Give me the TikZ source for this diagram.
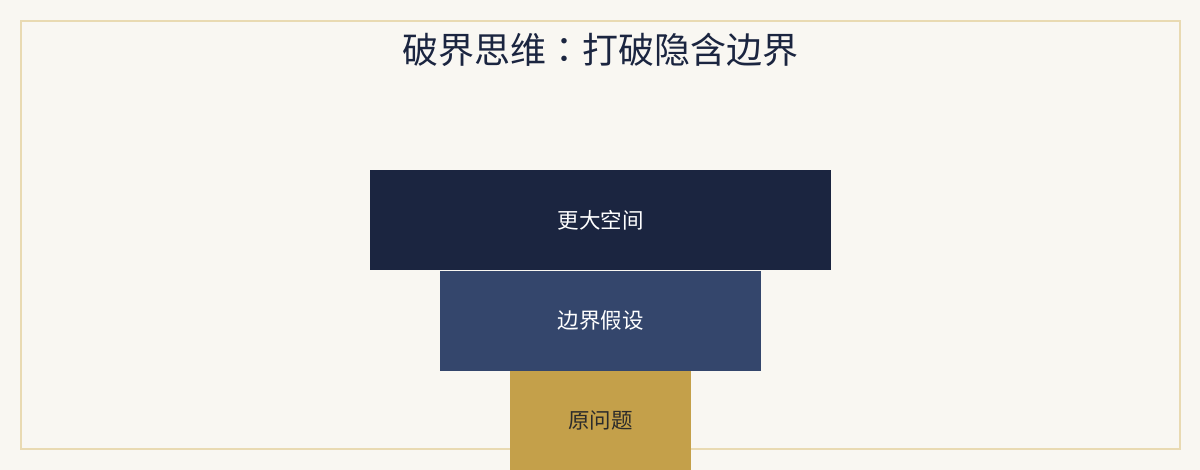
\documentclass[tikz,border=0pt]{standalone}
\usepackage{fontspec}
\newfontfamily\cjk{Noto Sans CJK SC}
\newfontfamily\cjkjp{Noto Sans CJK JP}
\definecolor{bgcol}{HTML}{F9F7F2}
\definecolor{framecol}{HTML}{E9DAB2}
\definecolor{navy}{HTML}{1B2540}
\definecolor{midblue}{HTML}{34466C}
\definecolor{gold}{HTML}{C4A04A}
\definecolor{darktext}{HTML}{2B2B2B}
\tikzset{
  layer/.style={draw=none, minimum height=100pt, inner sep=0pt, anchor=north, font=\cjk\fontsize{21.5}{25}\selectfont},
}
\begin{document}
\begin{tikzpicture}[x=1pt,y=-1pt]
\fill[bgcol] (0,0) rectangle (1200,470);
\useasboundingbox (0,0) rectangle (1200,470);
\draw[framecol, line width=2pt] (21,21) rectangle (1180,449);
\node[font=\cjk\fontsize{36}{42}\selectfont, text=navy] (title) at (600,50) {破界思维{\cjkjp ：}打破隐含边界};
\node[layer, fill=navy, text=white, minimum width=461pt] (top) at (600.5,170) {更大空间};
\node[layer, fill=midblue, text=white, minimum width=321pt] (mid) at (600.5,270.5) {边界假设};
\node[layer, fill=gold, text=darktext, minimum width=181pt, minimum height=99.5pt] (bot) at (600.5,370.5) {原问题};
\end{tikzpicture}
\end{document}
